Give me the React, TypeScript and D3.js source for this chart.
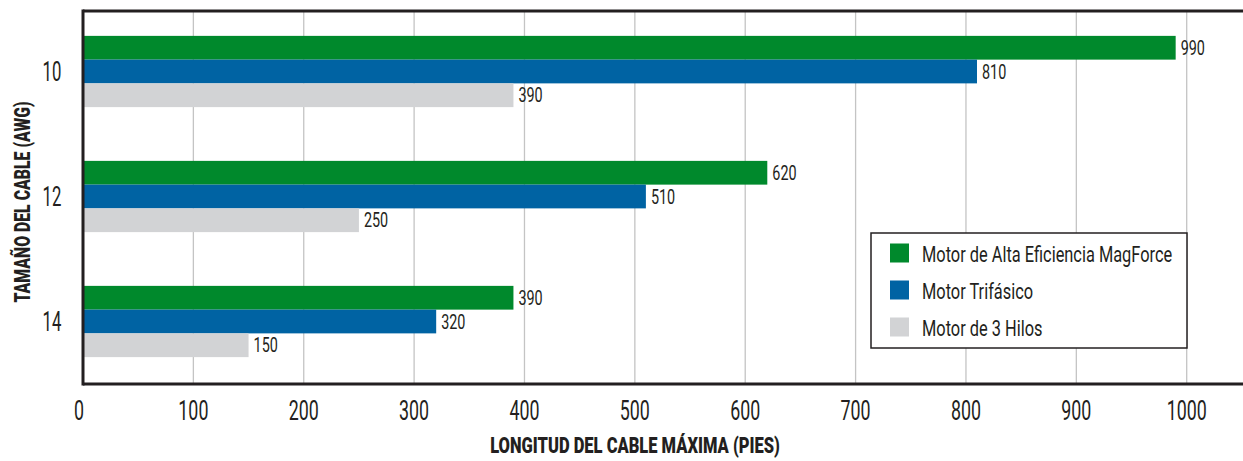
import { useEffect } from 'react';
import * as d3 from 'd3';

// ---------------------------------------------------------------------------
// Data
// ---------------------------------------------------------------------------

const categories = ['10', '12', '14'];
const seriesNames = [
  'Motor de Alta Eficiencia MagForce',
  'Motor Trifásico',
  'Motor de 3 Hilos',
];
const magforceValues = [990, 620, 390];
const trifasicoValues = [810, 510, 320];
const tresHilosValues = [390, 250, 150];
const xTicks = [0, 100, 200, 300, 400, 500, 600, 700, 800, 900, 1000];
const yTitle = 'TAMAÑO DEL CABLE (AWG)';
const xTitle = 'LONGITUD DEL CABLE MÁXIMA (PIES)';

// ---------------------------------------------------------------------------
// Styles
// ---------------------------------------------------------------------------

const COLORS = ['#00892C', '#0063A3', '#D2D3D5'];
const INK = '#231F20';
const GRID = '#C4C4C4';
const FONT = 'Roboto, "DejaVu Sans", sans-serif';

const W = 1243;
const H = 461;
const plot = { left: 83, right: 1243, top: 11, bottom: 384 };

// condensed text: the source font is a narrow DIN-like face
function CText({
  x, y, sx, size, weight = 400, anchor = 'start', rotate = 0, children,
}: {
  x: number; y: number; sx: number; size: number; weight?: number;
  anchor?: string; rotate?: number; children: any;
}) {
  return (
    <text
      transform={`translate(${x},${y}) rotate(${rotate}) scale(${sx},1)`}
      fontSize={size}
      fontWeight={weight}
      fontFamily={FONT}
      textAnchor={anchor}
      fill={INK}
    >
      {children}
    </text>
  );
}

export default function App() {
  useEffect(() => {
    document.body.style.margin = '0';
  }, []);

  const series = [magforceValues, trifasicoValues, tresHilosValues];

  const x = d3.scaleLinear().domain([0, 1000]).range([plot.left, 1186.7]);

  const y = d3.scaleBand<string>()
    .domain(categories)
    .range([9, plot.bottom])
    .paddingInner(0.43)
    .paddingOuter(0.215);

  const ySub = d3.scaleBand<number>()
    .domain(d3.range(series.length))
    .range([0, y.bandwidth()]);

  return (
    <svg width={W} height={H} style={{ display: 'block' }}>
      <rect width={W} height={H} fill="#fff" />

      {/* gridlines */}
      {xTicks.filter((t) => t > 0).map((t) => (
        <line
          key={`g${t}`}
          x1={x(t)} x2={x(t)}
          y1={plot.top} y2={plot.bottom}
          stroke={GRID} strokeWidth={1.3}
        />
      ))}

      {/* bars */}
      {categories.map((c, ci) => (
        <g key={c} transform={`translate(0,${y(c)})`}>
          {series.map((vals, si) => (
            <g key={si}>
              <rect
                x={x(0)}
                y={ySub(si)}
                width={x(vals[ci]) - x(0)}
                height={ySub.bandwidth()}
                fill={COLORS[si]}
              />
              <CText
                x={x(vals[ci]) + 5}
                y={(ySub(si) as number) + ySub.bandwidth() / 2 + 7}
                sx={0.72}
                size={20}
              >
                {vals[ci]}
              </CText>
            </g>
          ))}
        </g>
      ))}

      {/* frame */}
      <line x1={plot.left} x2={plot.right} y1={plot.top} y2={plot.top} stroke={INK} strokeWidth={3} />
      <line x1={plot.left} x2={plot.right} y1={plot.bottom} y2={plot.bottom} stroke={INK} strokeWidth={3} />
      <line x1={plot.left} x2={plot.left} y1={plot.top - 1.5} y2={plot.bottom + 1.5} stroke={INK} strokeWidth={3} />

      {/* category labels */}
      {categories.map((c) => (
        <CText
          key={`c${c}`}
          x={52}
          y={(y(c) as number) + y.bandwidth() / 2 + 9.5}
          sx={0.62}
          size={27}
          anchor="middle"
        >
          {c}
        </CText>
      ))}

      {/* x tick labels */}
      {xTicks.map((t) => (
        <CText key={`t${t}`} x={t === 0 ? x(t) - 4 : x(t)} y={420} sx={0.66} size={27} anchor="middle">
          {t}
        </CText>
      ))}

      {/* axis titles */}
      <CText x={30} y={202} rotate={-90} sx={0.72} size={22} weight={900} anchor="middle">
        {yTitle}
      </CText>
      <CText x={635} y={453} sx={0.75} size={22} weight={900} anchor="middle">
        {xTitle}
      </CText>

      {/* legend */}
      <g transform="translate(871,233)">
        <rect x={0} y={0} width={316} height={115} fill="#fff" stroke={INK} strokeWidth={1.5} />
        {seriesNames.map((name, i) => (
          <g key={name} transform={`translate(0,${20 + i * 37})`}>
            <rect x={19} y={-9.5} width={19} height={19} fill={COLORS[i]} />
            <CText x={51} y={9} sx={0.745} size={22}>
              {name}
            </CText>
          </g>
        ))}
      </g>
    </svg>
  );
}
